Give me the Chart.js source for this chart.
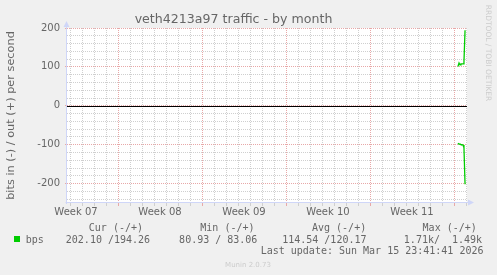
<!DOCTYPE html>
<html>
<head>
<meta charset="utf-8">
<title>veth4213a97 traffic - by month</title>
<script src="https://cdn.jsdelivr.net/npm/chart.js@4.4.1/dist/chart.umd.min.js"></script>
<style>
  html, body { margin:0; padding:0; background:#f0f0f0; }
  #wrap { position:relative; width:497px; height:275px; }
</style>
</head>
<body>
<div id="wrap"><canvas id="chart" width="497" height="275"></canvas></div>
<script>
// Datos: días contados desde el inicio de la semana 08
const sampleDays = [28.33, 28.42, 28.50, 28.58, 28.67, 28.75, 28.83, 28.92];
const outBps = [101, 110, 105, 108, 108, 108, 113, 194];
const inBps  = [96, 99, 98, 100, 100, 101, 108, 202];   // se dibuja en negativo

const weekLabels = ['Week 07', 'Week 08', 'Week 09', 'Week 10', 'Week 11'];
const weekStarts = [-7, 0, 7, 14, 21];
const yTickLabels = [-200, -100, 0, 100, 200];

const legendHead = ['Cur (-/+)', 'Min (-/+)', 'Avg (-/+)', 'Max (-/+)'];
const legendName = 'bps';
const legendVals = ['202.10 /194.26', ' 80.93 / 83.06', '114.54 /120.17', '  1.71k/  1.49k'];
const lastUpdate = 'Last update: Sun Mar 15 23:41:41 2026';

const FONT = '#666666';
const AXIS = '#CFD6F8';
const GRID = '#cfcfcf';
const MGRID = '#e8a8a8';
const LINE = '#00CC00';

// Fondo blanco, línea del cero, ejes con flecha y leyenda
const bgPlugin = {
  id: 'munin',
  beforeDraw(chart) {
    const a = chart.chartArea, ctx = chart.ctx;
    ctx.save();
    ctx.fillStyle = '#ffffff';
    ctx.fillRect(a.left, a.top, a.right - a.left, a.bottom - a.top);
    ctx.restore();
  },
  beforeDatasetsDraw(chart) {
    const a = chart.chartArea, ctx = chart.ctx;
    const y0 = Math.round(chart.scales.y.getPixelForValue(0)) + 0.5;
    ctx.save();
    ctx.strokeStyle = '#000000';
    ctx.lineWidth = 1;
    ctx.beginPath();
    ctx.moveTo(a.left, y0);
    ctx.lineTo(a.right, y0);
    ctx.stroke();
    ctx.restore();
  },
  afterDatasetsDraw(chart) {
    const a = chart.chartArea, ctx = chart.ctx;
    ctx.save();
    ctx.strokeStyle = AXIS;
    ctx.fillStyle = AXIS;
    ctx.lineWidth = 1;
    const bx = a.bottom - 0.5, lx = a.left - 0.5;
    ctx.beginPath();
    ctx.moveTo(lx - 1, bx);
    ctx.lineTo(a.right + 2, bx);
    ctx.moveTo(lx, a.bottom + 1);
    ctx.lineTo(lx, a.top - 2);
    ctx.stroke();
    // flechas
    ctx.beginPath();
    ctx.moveTo(a.right + 7, bx);
    ctx.lineTo(a.right + 1, bx - 3);
    ctx.lineTo(a.right + 1, bx + 3);
    ctx.closePath();
    ctx.fill();
    ctx.beginPath();
    ctx.moveTo(lx, a.top - 7);
    ctx.lineTo(lx - 3, a.top - 1);
    ctx.lineTo(lx + 3, a.top - 1);
    ctx.closePath();
    ctx.fill();
    ctx.restore();
  },
  afterDraw(chart) {
    const ctx = chart.ctx;
    ctx.save();
    ctx.fillStyle = FONT;
    ctx.textBaseline = 'alphabetic';
    ctx.textAlign = 'left';
    ctx.font = '10px "DejaVu Sans Mono"';
    const headX = [88.8, 200.3, 312, 422.6];
    legendHead.forEach((t, i) => ctx.fillText(t, headX[i], 231.3));
    ctx.fillText(legendName, 25.8, 242.8);
    const valX = [65.8, 173.1, 282.2, 391.8];
    legendVals.forEach((t, i) => ctx.fillText(t, valX[i], 242.8));
    ctx.fillText(lastUpdate, 260.7, 254.3);
    ctx.fillStyle = LINE;
    ctx.fillRect(14, 236, 6, 6);
    // marcas de agua
    ctx.fillStyle = '#cccccc';
    ctx.font = '7px "DejaVu Sans"';
    ctx.textAlign = 'center';
    ctx.fillText('Munin 2.0.73', 248, 266.8);
    ctx.translate(488, 53);
    ctx.rotate(Math.PI / 2);
    ctx.font = '7.5px "DejaVu Sans"';
    ctx.textBaseline = 'middle';
    ctx.fillText('RRDTOOL / TOBI OETIKER', 0, 0);
    ctx.restore();
  }
};

const weekOf = v => weekStarts.findIndex(w => Math.abs(w + 3.5 - v) < 1e-9);
const xGridColor = c => {
  const v = c.tick ? c.tick.value : 1;
  if (!Number.isInteger(v)) return 'rgba(0,0,0,0)';
  return v % 7 === 0 ? MGRID : GRID;
};
const yGridColor = c => (c.tick && c.tick.value % 100 === 0) ? MGRID : GRID;

new Chart(document.getElementById('chart'), {
  type: 'line',
  data: {
    datasets: [
      { label: 'out', data: sampleDays.map((d, i) => ({x: d, y: outBps[i]})),
        borderColor: LINE, borderWidth: 1.3, pointRadius: 0, tension: 0, fill: false },
      { label: 'in', data: sampleDays.map((d, i) => ({x: d, y: -inBps[i]})),
        borderColor: LINE, borderWidth: 1.3, pointRadius: 0, tension: 0, fill: false }
    ]
  },
  options: {
    responsive: false,
    animation: false,
    events: [],
    layout: { padding: { left: 0, right: 30, top: 0, bottom: 0 } },
    plugins: {
      legend: { display: false },
      tooltip: { enabled: false },
      title: {
        display: true,
        text: 'veth4213a97 traffic - by month',
        color: FONT,
        font: { family: 'DejaVu Sans', size: 12.6, weight: 'normal', lineHeight: '15px' },
        padding: { top: 12.5, bottom: 0.5 }
      }
    },
    scales: {
      x: {
        type: 'linear',
        min: -4.25,
        max: 29.0833,
        afterFit: s => { s.height = 72; },
        afterBuildTicks: s => {
          const t = [];
          for (let d = Math.ceil(s.min); d <= Math.floor(s.max); d++) t.push(d);
          weekStarts.forEach(w => t.push(w + 3.5));
          t.sort((a, b) => a - b);
          s.ticks = t.map(v => ({value: v}));
        },
        ticks: {
          autoSkip: false, maxRotation: 0, padding: 0, color: FONT,
          font: { family: 'DejaVu Sans', size: 10 },
          callback: v => { const i = weekOf(v); return i >= 0 ? weekLabels[i] : ''; }
        },
        grid: { tickLength: 3, color: xGridColor, tickColor: xGridColor },
        border: { display: false, dash: [1, 1] }
      },
      y: {
        type: 'linear',
        min: -250,
        max: 200,
        afterFit: s => { s.width = 67; },
        afterBuildTicks: s => {
          const t = [];
          for (let v = Math.ceil(s.min / 20) * 20; v <= s.max; v += 20) t.push(v);
          s.ticks = t.map(v => ({value: v}));
        },
        ticks: {
          autoSkip: false, padding: 5, color: FONT,
          font: { family: 'DejaVu Sans', size: 10 },
          callback: v => yTickLabels.includes(v) ? String(v) : ''
        },
        grid: {
          tickLength: 2,
          color: yGridColor,
          tickColor: c => (c.tick && c.tick.value % 100 === 0) ? MGRID : 'rgba(0,0,0,0)'
        },
        border: { display: false, dash: [1, 1] },
        title: {
          display: true,
          text: 'bits in (-) / out (+) per second',
          color: FONT,
          font: { family: 'DejaVu Sans', size: 11.3 },
          padding: { top: 4, bottom: 0 }
        }
      }
    }
  },
  plugins: [bgPlugin]
});
</script>
</body>
</html>
